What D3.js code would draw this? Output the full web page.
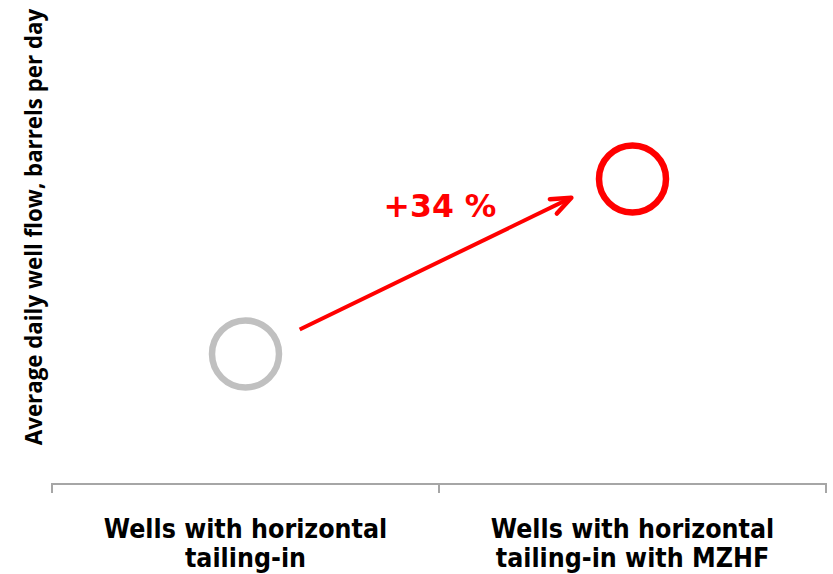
<!DOCTYPE html>
<html>
<head>
<meta charset="utf-8">
<script src="https://cdn.jsdelivr.net/npm/d3@7"></script>
<style>
  html, body { margin: 0; padding: 0; background: #fff; }
  svg { display: block; }
</style>
</head>
<body>
<svg id="chart" width="833" height="574"></svg>
<script>
// Well flow comparison: average daily flow, indexed so baseline = 100
const categories = ["Wells with horizontal\ntailing-in", "Wells with horizontal\ntailing-in with MZHF"];
const values = [100, 134];
const seriesColors = ["#c0c0c0", "#ff0000"];
const changeLabel = "+34 %";
const yTitle = "Average daily well flow, barrels per day";

const svg = d3.select("#chart");
const W = 833, H = 574;
const margin = { left: 52, right: 7, top: 0, bottom: 90 };
const axisY = 484;

const x = d3.scaleBand().domain(categories).range([margin.left, W - margin.right]).padding(0);
const y = d3.scaleLinear().domain([74.74, 168.78]).range([axisY, 0]);

const cx = d => x(d) + x.bandwidth() / 2;

// Category axis: baseline with boundary ticks
const axisG = svg.append("g");
axisG.append("line")
  .attr("x1", margin.left).attr("x2", W - margin.right)
  .attr("y1", axisY).attr("y2", axisY)
  .attr("stroke", "#a6a6a6").attr("stroke-width", 2);
const bounds = [margin.left, ...categories.map(c => x(c) + x.bandwidth())];
axisG.selectAll("line.tick").data(bounds).enter().append("line")
  .attr("class", "tick")
  .attr("x1", d => d).attr("x2", d => d)
  .attr("y1", axisY - 1).attr("y2", axisY + 9)
  .attr("stroke", "#a6a6a6").attr("stroke-width", 2);

// Category labels
const labels = svg.append("g").selectAll("text").data(categories).enter().append("text")
  .attr("x", d => cx(d))
  .attr("y", 538)
  .attr("text-anchor", "middle")
  .attr("font-family", "'DejaVu Sans Condensed', 'DejaVu Sans', sans-serif")
  .attr("font-stretch", "condensed")
  .attr("font-weight", "bold")
  .attr("font-size", 26.5)
  .attr("fill", "#000");
labels.each(function(d) {
  const t = d3.select(this);
  d.split("\n").forEach((line, i) => {
    t.append("tspan").attr("x", cx(d)).attr("dy", i === 0 ? 0 : 29).text(line);
  });
});

// Y axis title
svg.append("text")
  .attr("transform", `translate(42, ${227}) rotate(-90)`)
  .attr("text-anchor", "middle")
  .attr("font-family", "'Open Sans', sans-serif")
  .attr("font-weight", "bold")
  .attr("font-size", 22.3)
  .attr("fill", "#000")
  .text(yTitle);

// Points as open circles
svg.append("g").selectAll("circle").data(categories).enter().append("circle")
  .attr("cx", d => cx(d))
  .attr("cy", (d, i) => y(values[i]))
  .attr("r", 33.5)
  .attr("fill", "none")
  .attr("stroke", (d, i) => seriesColors[i])
  .attr("stroke-width", 6.5);

// Arrow between the two points
const p0 = [cx(categories[0]), y(values[0])];
const p1 = [cx(categories[1]), y(values[1])];
const lerp = (t) => [p0[0] + (p1[0] - p0[0]) * t, p0[1] + (p1[1] - p0[1]) * t];
const a0 = lerp(0.14);
const a1raw = lerp(0.842);
const a1 = [a1raw[0], a1raw[1] - 9];

svg.append("defs").append("marker")
  .attr("id", "head")
  .attr("viewBox", "-26 -16 32 32")
  .attr("refX", 0).attr("refY", 0)
  .attr("markerWidth", 32).attr("markerHeight", 32)
  .attr("markerUnits", "userSpaceOnUse")
  .attr("orient", "auto")
  .append("path")
  .attr("d", "M-20,-8 L0,0 L-20,8")
  .attr("fill", "none")
  .attr("stroke", "#ff0000")
  .attr("stroke-width", 4.5)
  .attr("stroke-linecap", "round")
  .attr("stroke-linejoin", "round");

svg.append("line")
  .attr("x1", a0[0]).attr("y1", a0[1])
  .attr("x2", a1[0]).attr("y2", a1[1])
  .attr("stroke", "#ff0000")
  .attr("stroke-width", 4)
  .attr("marker-end", "url(#head)");

// Change label
svg.append("text")
  .attr("x", 440)
  .attr("y", 217)
  .attr("text-anchor", "middle")
  .attr("font-family", "'DejaVu Sans', sans-serif")
  .attr("font-weight", "bold")
  .attr("font-size", 31.5)
  .attr("fill", "#ff0000")
  .text(changeLabel);
</script>
</body>
</html>
